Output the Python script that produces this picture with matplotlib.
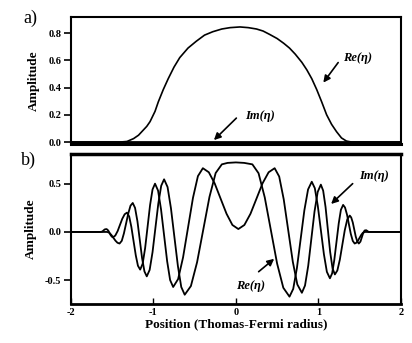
import matplotlib.pyplot as plt

# panel a: Re and Im of eta (bump at centre, Im flat)
xa_re = [-2.0, -1.40, -1.32, -1.24, -1.18, -1.14, -1.08, -1.04, -0.98, -0.94, -0.88, -0.82,
         -0.75, -0.68, -0.58, -0.48, -0.38, -0.28, -0.17, -0.07, 0.05, 0.15, 0.25, 0.33,
         0.41, 0.50, 0.58, 0.65, 0.72, 0.80, 0.86, 0.92, 0.98, 1.04, 1.10, 1.16, 1.22,
         1.28, 1.34, 1.40, 2.0]
ya_re = [0.0, 0.0, 0.004, 0.025, 0.05, 0.076, 0.115, 0.15, 0.225, 0.295, 0.385, 0.465,
         0.55, 0.62, 0.69, 0.74, 0.785, 0.81, 0.83, 0.84, 0.845, 0.84, 0.83, 0.815,
         0.79, 0.76, 0.725, 0.69, 0.645, 0.585, 0.53, 0.465, 0.385, 0.295, 0.20, 0.13, 0.076,
         0.03, 0.007, 0.0, 0.0]
xa_im = [-2.0, 2.0]
ya_im = [0.0, 0.0]

# panel b: Re(eta) has a flat top at the centre, Im(eta) has a dip there
xb_re = [-2.0, -1.58, -1.56, -1.535, -1.51, -1.485, -1.46, -1.435,
         -1.41, -1.383, -1.357, -1.33, -1.303, -1.277,
         -1.25, -1.222, -1.193, -1.165, -1.137, -1.108,
         -1.08, -1.045, -1.01, -0.975, -0.94, -0.905,
         -0.87, -0.828, -0.787, -0.745, -0.703, -0.662,
         -0.62, -0.545, -0.47, -0.395, -0.32, -0.245,
         -0.17, -0.10, 0.0, 0.10,
         0.20, 0.275, 0.35, 0.425, 0.50, 0.575,
         0.65, 0.695, 0.74, 0.785, 0.83, 0.875,
         0.92, 0.957, 0.993, 1.03, 1.067, 1.103,
         1.14, 1.167, 1.193, 1.22, 1.247, 1.273,
         1.30, 1.323, 1.347, 1.37, 1.393, 1.417,
         1.44, 1.46, 1.48, 1.50, 1.52, 1.54, 1.56, 2.0]
yb_re = [0.0, 0.0, 0.0, -0.008, -0.03, -0.06, -0.09, -0.112,
         -0.12, -0.092, -0.015, 0.09, 0.195, 0.272,
         0.30, 0.249, 0.11, -0.08, -0.27, -0.409,
         -0.46, -0.393, -0.209, 0.043, 0.294, 0.478,
         0.545, 0.465, 0.246, -0.053, -0.351, -0.570,
         -0.65, -0.56, -0.313, 0.025, 0.363, 0.61,
         0.70, 0.715, 0.72, 0.715,
         0.70, 0.608, 0.358, 0.015, -0.328, -0.578,
         -0.67, -0.59, -0.373, -0.075, 0.223, 0.44,
         0.52, 0.453, 0.27, 0.02, -0.23, -0.413,
         -0.48, -0.429, -0.29, -0.10, 0.09, 0.229,
         0.28, 0.253, 0.18, 0.08, -0.02, -0.093,
         -0.12, -0.112, -0.09, -0.06, -0.03, -0.008, 0.0, 0.0]

xb_im = [-2.0, -1.64, -1.62, -1.605, -1.59,
         -1.57, -1.557, -1.543, -1.53, -1.517, -1.503,
         -1.49, -1.462, -1.433, -1.405, -1.377, -1.348,
         -1.32, -1.293, -1.267, -1.24, -1.213, -1.187,
         -1.16, -1.13, -1.10, -1.07, -1.04, -1.01,
         -0.98, -0.943, -0.907, -0.87, -0.833, -0.797,
         -0.76, -0.70, -0.64, -0.58, -0.52, -0.46,
         -0.40, -0.328, -0.257, -0.185, -0.113, -0.042,
         0.03, 0.103, 0.177, 0.25, 0.323, 0.397,
         0.47, 0.525, 0.58, 0.635, 0.69, 0.745,
         0.80, 0.838, 0.877, 0.915, 0.953, 0.992,
         1.03, 1.058, 1.087, 1.115, 1.143, 1.172,
         1.20, 1.23, 1.26, 1.29, 1.32, 1.35,
         1.38, 1.398, 1.417, 1.435, 1.453, 1.472,
         1.49, 1.51, 1.525, 1.54, 1.56, 1.58, 1.61, 2.0]
yb_im = [0.0, 0.0, 0.004, 0.015, 0.026,
         0.03, 0.024, 0.009, -0.013, -0.034, -0.049,
         -0.055, -0.038, 0.009, 0.073, 0.136, 0.183,
         0.20, 0.16, 0.053, -0.095, -0.243, -0.35,
         -0.39, -0.33, -0.168, 0.055, 0.278, 0.44,
         0.50, 0.428, 0.233, -0.035, -0.303, -0.498,
         -0.57, -0.488, -0.263, 0.045, 0.353, 0.578,
         0.66, 0.618, 0.503, 0.345, 0.188, 0.072,
         0.03, 0.072, 0.188, 0.345, 0.503, 0.618,
         0.66, 0.574, 0.338, 0.015, -0.308, -0.544,
         -0.63, -0.555, -0.35, -0.07, 0.21, 0.415,
         0.49, 0.428, 0.258, 0.025, -0.208, -0.378,
         -0.44, -0.399, -0.288, -0.135, 0.018, 0.129,
         0.17, 0.15, 0.098, 0.025, -0.048, -0.10,
         -0.12, -0.10, -0.06, -0.02, 0.015, 0.018, 0.0, 0.0]

plt.rcParams['font.family'] = ['Liberation Serif', 'DejaVu Serif']

fig = plt.figure(figsize=(4.12, 3.43), dpi=100)
axa = fig.add_axes([0.172, 0.580, 0.801, 0.370])
axb = fig.add_axes([0.172, 0.114, 0.801, 0.437])

axa.plot(xa_re, ya_re, color='black', lw=1.2)
axa.plot(xa_im, ya_im, color='black', lw=2.0)
axb.plot(xb_re, yb_re, color='black', lw=1.3)
axb.plot(xb_im, yb_im, color='black', lw=1.3)

axa.set_xlim(-2, 2)
axa.set_ylim(-0.015, 0.917)
axb.set_xlim(-2, 2)
axb.set_ylim(-0.745, 0.807)

axa.set_yticks([0.0, 0.2, 0.4, 0.6, 0.8])
axa.set_yticklabels(['0.0', '0.2', '0.4', '0.6', '0.8'])
axa.set_xticks([])
axb.set_yticks([-0.5, 0.0, 0.5])
axb.set_yticklabels(['-0.5', '0.0', '0.5'])
axb.set_xticks([-2, -1, 0, 1, 2])
axb.set_xticklabels(['-2', '-1', '0', '1', '2'])

for ax in (axa, axb):
    for s in ax.spines.values():
        s.set_linewidth(1.5)
    ax.tick_params(axis='y', direction='out', length=5, width=1.2, pad=2, labelsize=7.5)
    for lab in ax.get_yticklabels():
        lab.set_fontweight('bold')
    ax.set_ylabel('Amplitude', fontsize=9.5, fontweight='bold', labelpad=6)
axa.spines['bottom'].set_linewidth(2.2)
axb.spines['top'].set_linewidth(2.5)
axb.spines['bottom'].set_linewidth(2.0)
axb.tick_params(axis='x', direction='in', length=4, width=1.0, pad=3, labelsize=7.5)
for lab in axb.get_xticklabels():
    lab.set_fontweight('bold')
axb.set_xlabel('Position (Thomas-Fermi radius)', fontsize=9.5, fontweight='bold', labelpad=1)

# annotations
lab_kw = dict(fontsize=9, fontweight='bold', style='italic', ha='center', va='center')
arr = dict(arrowstyle='-|>', color='black', lw=1.2, mutation_scale=10)
axa.text(1.48, 0.62, 'Re(η)', **lab_kw)
axa.annotate('', xy=(1.04, 0.42), xytext=(1.26, 0.60), arrowprops=arr)
axa.text(0.29, 0.19, 'Im(η)', **lab_kw)
axa.annotate('', xy=(-0.29, 0.0), xytext=(0.03, 0.19), arrowprops=arr)
axb.text(1.68, 0.58, 'Im(η)', **lab_kw)
axb.annotate('', xy=(1.13, 0.27), xytext=(1.44, 0.52), arrowprops=arr)
axb.text(0.18, -0.56, 'Re(η)', **lab_kw)
axb.annotate('', xy=(0.49, -0.26), xytext=(0.25, -0.43), arrowprops=arr)

fig.text(30 / 412, 1 - 18 / 343, 'a)', fontsize=13, ha='center', va='center')
fig.text(28 / 412, 1 - 160 / 343, 'b)', fontsize=13, ha='center', va='center')

plt.savefig('out.png', dpi=100)
